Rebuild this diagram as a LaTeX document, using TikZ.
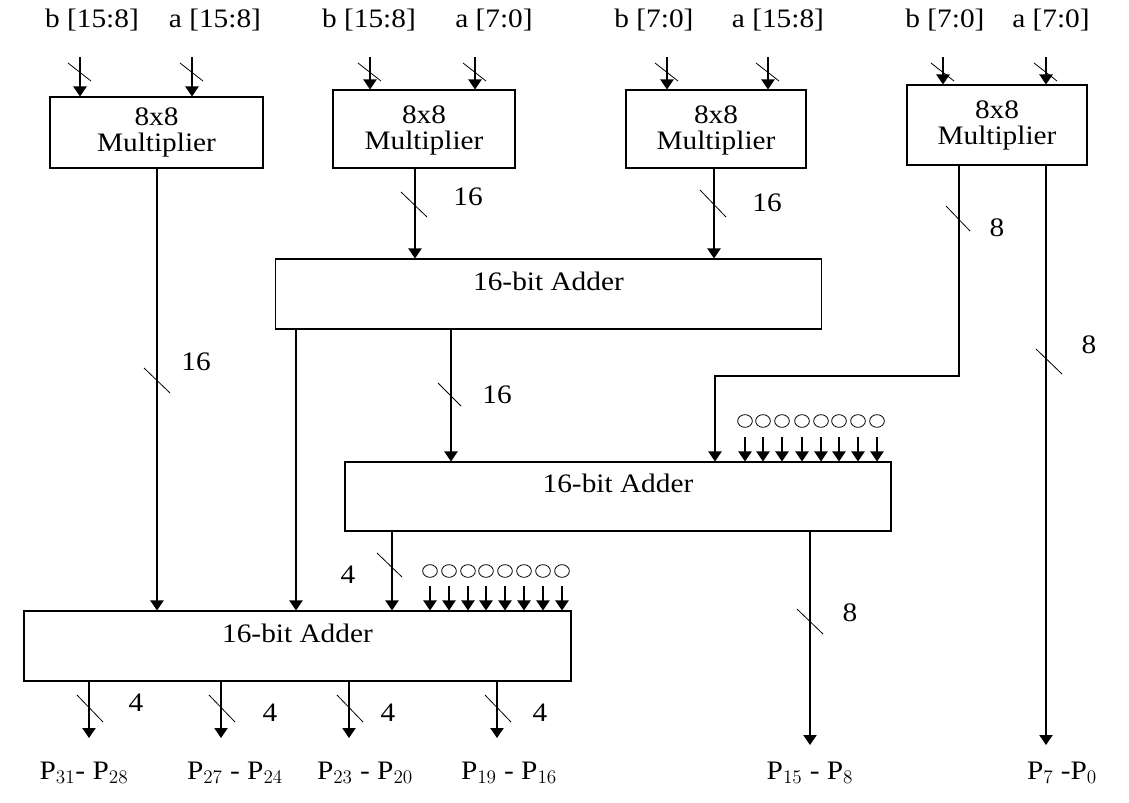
\documentclass[tikz,border=0pt]{standalone}
\usepackage{fontspec}
\setmainfont{Liberation Serif}[FakeStretch=1.1]
\usetikzlibrary{calc,arrows.meta,shapes.geometric}
\begin{document}
\begin{tikzpicture}[x=0.75pt,y=-0.75pt,font=\fontsize{20}{22}\selectfont,
  box/.style={draw,thick,inner sep=0},
  arr/.style={thick,-{Triangle[length=7.5pt,width=10pt]}},
  sl/.style={semithick},
  zero/.style={draw,ellipse,semithick,minimum width=11pt,minimum height=9.5pt,inner sep=0}]
\useasboundingbox (0,0) rectangle (1129,803);
\node[box,minimum width=159.75pt,minimum height=53.25pt] (m1) at (156.5,132.5) {};
\node at (156.5,117) {8x8}; \node at (156.5,145) {Multiplier};
\node[box,minimum width=136.5pt,minimum height=58.5pt] (m2) at (424,129) {};
\node at (424,115) {8x8}; \node at (424,143) {Multiplier};
\node[box,minimum width=135pt,minimum height=58.5pt] (m3) at (716,129) {};
\node at (716,115) {8x8}; \node at (716,143) {Multiplier};
\node[box,minimum width=135pt,minimum height=60pt] (m4) at (997,125) {};
\node at (997,110) {8x8}; \node at (997,138) {Multiplier};
\node[box,minimum width=409.5pt,minimum height=52.5pt] (a1) at (548.5,294) {};
\node at (548.5,281) {16-bit Adder};
\node[box,minimum width=409.5pt,minimum height=51.75pt] (a2) at (618,496.5) {};
\node at (618,483) {16-bit Adder};
\node[box,minimum width=410.25pt,minimum height=52.5pt] (a3) at (297.5,646) {};
\node at (297.5,633) {16-bit Adder};
% top labels
\foreach \x/\t in {92/{b [15:8]},215/{a [15:8]},369/{b [15:8]},494/{a [7:0]},654/{b [7:0]},778/{a [15:8]},945/{b [7:0]},1051/{a [7:0]}}
  \node at (\x,20) {\t};
% inputs
\foreach \x/\b in {80/m1,192/m1,370/m2,475/m2,667/m3,768/m3,943/m4,1046/m4}{
  \coordinate (t\x) at (\x,57);
  \draw[arr] (t\x) -- (t\x |- \b.north);
  \draw[sl] (\x-12,63) -- (\x+11,81);
}
% M1 out
\coordinate (o1) at (157,168);
\draw[arr] (o1 |- m1.south) -- (o1 |- a3.north);
\draw[sl] (144,368) -- (170,393); \node at (196,362) {16};
% M2, M3 out
\coordinate (o2) at (415,168);
\draw[arr] (o2 |- m2.south) -- (o2 |- a1.north);
\draw[sl] (401,192) -- (427,217); \node at (468,197) {16};
\coordinate (o3) at (714,168);
\draw[arr] (o3 |- m3.south) -- (o3 |- a1.north);
\draw[sl] (700,190) -- (726,217); \node at (767,203) {16};
% M4 out
\coordinate (o4) at (959,155);
\coordinate (j4) at (715,376);
\draw[arr] (o4 |- m4.south) -- (o4 |- j4) -- (j4) -- (j4 |- a2.north);
\draw[sl] (946,206) -- (970,231); \node at (997,228) {8};
\coordinate (o5) at (1046,155);
\coordinate (p0) at (1046,745);
\draw[arr] (o5 |- m4.south) -- (p0);
\draw[sl] (1036,349) -- (1062,374); \node at (1089,345) {8};
% A1 out
\coordinate (o6) at (296,320);
\coordinate (o7) at (451,320);
\draw[arr] (o6 |- a1.south) -- (o6 |- a3.north);
\draw[arr] (o7 |- a1.south) -- (o7 |- a2.north);
\draw[sl] (438,383) -- (461,406); \node at (497,395) {16};
% zeros A2
\foreach \x [count=\i] in {745,763,782,802,821,839,858,877}{
  \node[zero] (za\i) at (\x,421) {};
  \draw[arr] (\x,437) -- (za\i |- a2.north);
}
% zeros A3
\foreach \x [count=\i] in {430,449,468,486,505,524,543,562}{
  \node[zero] (zb\i) at (\x,571) {};
  \draw[arr] (\x,586) -- (zb\i |- a3.north);
}
% A2 out
\coordinate (o8) at (392,520);
\draw[arr] (o8 |- a2.south) -- (o8 |- a3.north);
\draw[sl] (377,553) -- (402,577); \node at (348,575) {4};
\coordinate (o9) at (810,520);
\coordinate (p8) at (810,745);
\draw[arr] (o9 |- a2.south) -- (p8);
\draw[sl] (797,609) -- (823,634); \node at (850,613) {8};
% A3 outs
\foreach \x/\lx/\ly in {89/136/703,221/270/713,349/388/713,497/540/713}{
  \coordinate (q\x) at (\x,672);
  \draw[arr] (q\x |- a3.south) -- (\x,738);
  \draw[sl] (\x-12,695) -- (\x+14,722);
  \node at (\lx,\ly) {4};
}
% bottom labels
\node at (84,773) {P$_{31}$- P$_{28}$};
\node at (235,773) {P$_{27}$ - P$_{24}$};
\node at (365,773) {P$_{23}$ - P$_{20}$};
\node at (509,773) {P$_{19}$ - P$_{16}$};
\node at (810,773) {P$_{15}$ - P$_{8}$};
\node at (1062,773) {P$_{7}$ -P$_{0}$};
\end{tikzpicture}
\end{document}
